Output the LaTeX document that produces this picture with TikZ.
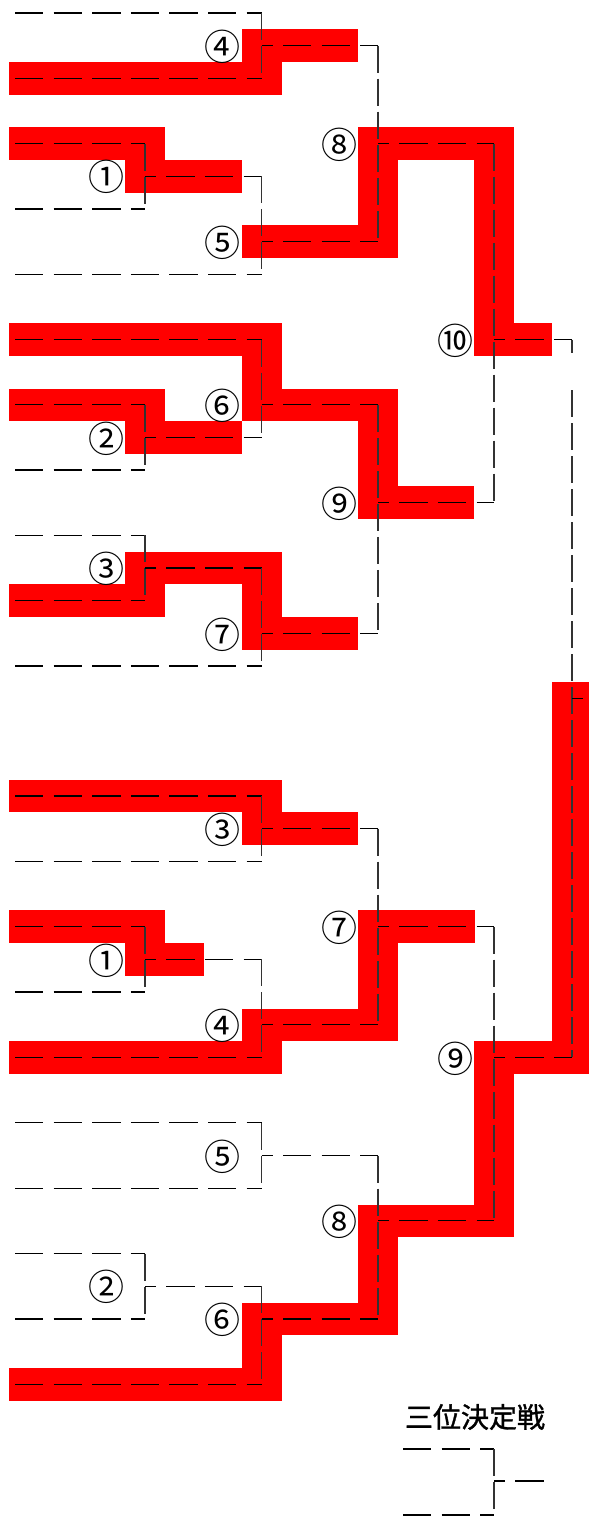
\documentclass[tikz,border=0pt]{standalone}
\usepackage{fontspec}
\newfontfamily\cjk{Noto Sans CJK JP}
\newfontfamily\cjkt[FakeBold=1.2]{Noto Sans CJK JP}
\tikzset{
  hd/.style={black, line width=1.3pt, dash pattern=on 28.3pt off 10.3pt},
  od/.style={black, line width=1.3pt, dash pattern=on 28.3pt off 10.3pt, dash phase=17.3pt},
  vd/.style={black!80, line width=1.3pt, dash pattern=on 27pt off 6pt},
  win/.style={fill={rgb,255:red,255;green,0;blue,0}},
  lab/.style={font=\cjk\fontsize{36}{36}\selectfont, inner sep=0pt},
  ttl/.style={font=\cjkt\fontsize{28}{28}\selectfont, inner sep=0pt}
}
% leaf: name, y, xend
\newcommand\lf[3]{%
  \coordinate (#1s) at (15,#2);
  \coordinate (#1e) at (#3,#2);
  \draw[hd] (#1s) -- (#1e);}
% match: name, x, ytop, ybot, yout, xnext, label
\newcommand\mt[7]{%
  \coordinate (#1t) at (#2,#3);
  \coordinate (#1b) at (#2,#4);
  \coordinate (#1o) at (#2,#5);
  \coordinate (#1n) at (#6,#5);
  \draw[vd] (#1t) -- (#1b);
  \draw[od] (#1o) -- (#1n);
  \node[lab] (#1l) at ([xshift=-39pt,yshift=-1pt]#1o) {#7};}
\newcommand\rr[4]{\fill[win] (#1,#2) rectangle (#3,#4);}
\begin{document}
\begin{tikzpicture}[x=1pt,y=-1pt]
\useasboundingbox (0,0) rectangle (589,1516);
% ---------- red winner bands ----------
% top bracket
\rr{9}{62}{282.3}{94.6}
\rr{241.7}{29.35}{282.3}{94.6}
\rr{241.7}{29.35}{357.7}{61.95}
\rr{9}{127.3}{165.3}{159.9}
\rr{124.7}{127.3}{165.3}{192.55}
\rr{124.7}{159.95}{241.7}{192.55}
\rr{241.7}{225.25}{398.3}{257.85}
\rr{357.7}{127.3}{398.3}{257.85}
\rr{357.7}{127.3}{514.3}{159.9}
\rr{473.7}{127.3}{514.3}{355.8}
\rr{473.7}{323.2}{551.7}{355.8}
\rr{9}{323.2}{282.3}{355.8}
\rr{241.7}{323.2}{282.3}{421.1}
\rr{241.7}{388.5}{398.3}{421.1}
\rr{357.7}{388.5}{398.3}{519.05}
\rr{357.7}{486.45}{473.7}{519.05}
\rr{9}{388.5}{165.3}{421.1}
\rr{124.7}{388.5}{165.3}{453.75}
\rr{124.7}{421.15}{241.7}{453.75}
\rr{9}{584.4}{165.3}{617}
\rr{124.7}{551.75}{165.3}{617}
\rr{124.7}{551.75}{282.3}{584.35}
\rr{241.7}{551.75}{282.3}{649.65}
\rr{241.7}{617.05}{357.7}{649.65}
% bottom bracket
\rr{9}{779.7}{282.3}{812.3}
\rr{241.7}{779.7}{282.3}{845}
\rr{241.7}{812.4}{357.7}{845}
\rr{9}{910.4}{165.3}{943}
\rr{124.7}{910.4}{165.3}{975.7}
\rr{124.7}{943.1}{204}{975.7}
\rr{9}{1041.1}{282.3}{1073.7}
\rr{241.7}{1008.5}{282.3}{1073.7}
\rr{241.7}{1008.5}{398.3}{1041.1}
\rr{357.7}{910.4}{398.3}{1041.1}
\rr{357.7}{910.4}{475}{943}
\rr{9}{1367.9}{282.3}{1400.5}
\rr{241.7}{1302.6}{282.3}{1400.5}
\rr{241.7}{1302.6}{398.3}{1335.2}
\rr{357.7}{1204.5}{398.3}{1335.2}
\rr{357.7}{1204.5}{514.3}{1237.1}
\rr{473.7}{1041.1}{514.3}{1237.1}
\rr{473.7}{1041.1}{592.3}{1073.7}
\rr{551.7}{682}{592.3}{1073.7}
% ---------- top bracket ----------
\lf{TL0}{13}{261.7}
\lf{TL1}{78.3}{261.7}
\lf{TL2}{143.6}{145}
\lf{TL3}{208.9}{145}
\lf{TL4}{274.2}{261.7}
\lf{TL5}{339.5}{261.7}
\lf{TL6}{404.8}{145}
\lf{TL7}{470.1}{145}
\lf{TL8}{535.4}{145}
\lf{TL9}{600.7}{145}
\lf{TL10}{666}{261.7}
\mt{Tm4}{261.7}{13}{78.3}{45.65}{378}{④}
\mt{Tm1}{145}{143.6}{208.9}{176.25}{261.7}{①}
\mt{Tm5}{261.7}{176.25}{274.2}{241.55}{378}{⑤}
\mt{Tm8}{378}{45.65}{241.55}{143.6}{494}{⑧}
\mt{Tm2}{145}{404.8}{470.1}{437.45}{261.7}{②}
\mt{Tm6}{261.7}{339.5}{437.45}{404.8}{378}{⑥}
\mt{Tm3}{145}{535.4}{600.7}{568.05}{261.7}{③}
\mt{Tm7}{261.7}{568.05}{666}{633.35}{378}{⑦}
\mt{Tm9}{378}{404.8}{633.35}{502.75}{494}{⑨}
\mt{Tm10}{494}{143.6}{502.75}{339.5}{572}{⑩}
% ---------- bottom bracket ----------
\lf{BL0}{796}{261.7}
\lf{BL1}{861.4}{261.7}
\lf{BL2}{926.7}{145}
\lf{BL3}{992.1}{145}
\lf{BL4}{1057.4}{261.7}
\lf{BL5}{1122.8}{261.7}
\lf{BL6}{1188.2}{261.7}
\lf{BL7}{1253.5}{145}
\lf{BL8}{1318.9}{145}
\lf{BL9}{1384.2}{261.7}
\mt{Bm3}{261.7}{796}{861.4}{828.7}{378}{③}
\mt{Bm1}{145}{926.7}{992.1}{959.4}{261.7}{①}
\mt{Bm4}{261.7}{959.4}{1057.4}{1024.8}{378}{④}
\mt{Bm7}{378}{828.7}{1024.8}{926.7}{494}{⑦}
\mt{Bm5}{261.7}{1122.8}{1188.2}{1155.5}{378}{⑤}
\mt{Bm2}{145}{1253.5}{1318.9}{1286.2}{261.7}{②}
\mt{Bm6}{261.7}{1286.2}{1384.2}{1318.9}{378}{⑥}
\mt{Bm8}{378}{1155.5}{1318.9}{1220.8}{494}{⑧}
\mt{Bm9}{494}{926.7}{1220.8}{1057.4}{572}{⑨}
% ---------- final ----------
\coordinate (Fs) at (572,353);
\coordinate (Ft) at (572,390);
\coordinate (Fo) at (572,698.3);
\coordinate (Fn) at (589,698.3);
\draw[vd] (Tm10n) -- (Fs);
\draw[vd] (Ft) -- (Bm9n);
\draw[od] (Fo) -- (Fn);
% ---------- third place ----------
\node[ttl] (title) at (475,1417) {三位決定戦};
\coordinate (Q1s) at (403,1449);
\coordinate (Q1e) at (494,1449);
\coordinate (Q2s) at (403,1515);
\coordinate (Q2e) at (494,1515);
\coordinate (Qo) at (494,1481);
\coordinate (Qn) at (547,1481);
\draw[hd] (Q1s) -- (Q1e);
\draw[hd] (Q2s) -- (Q2e);
\draw[vd] (Q1e) -- (Q2e);
\draw[od] (Qo) -- (Qn);
\end{tikzpicture}
\end{document}
